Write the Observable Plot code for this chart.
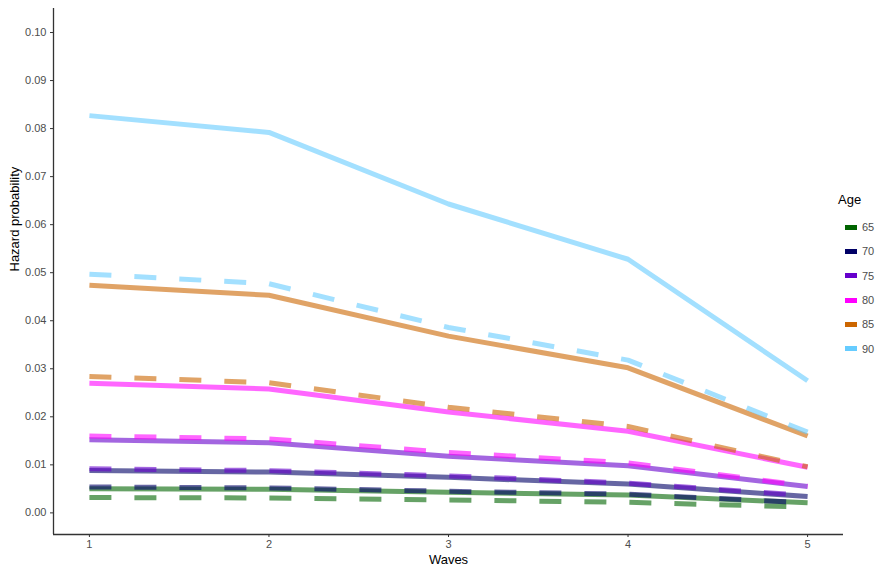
<!DOCTYPE html>
<html>
<head>
<meta charset="utf-8">
<script src="https://cdn.jsdelivr.net/npm/d3@7"></script>
<script src="https://cdn.jsdelivr.net/npm/@observablehq/plot@0.6"></script>
<style>
  html, body { margin: 0; padding: 0; background: #fff; }
  #wrap { position: relative; width: 886px; height: 566px; font-family: "Liberation Sans", Arial, sans-serif; }
  #legend { position: absolute; left: 838px; top: 192px; }
  #legend .title { font-size: 13px; color: #000; margin-bottom: 8px; }
  #legend .item { display: flex; align-items: center; height: 24.3px; }
  #legend .key { width: 12px; height: 5px; margin-left: 7px; margin-right: 5px; }
  #legend .lab { font-size: 11px; color: #4d4d4d; }
</style>
</head>
<body>
<div id="wrap"><div id="legend"></div></div>
<script>
const waves = [1, 2, 3, 4, 5];
const ages = ["65", "70", "75", "80", "85", "90"];
const ageColors = ["#006400", "#000066", "#6600cc", "#ff00ff", "#cc6600", "#66ccff"];
const yTicks = [0, 0.01, 0.02, 0.03, 0.04, 0.05, 0.06, 0.07, 0.08, 0.09, 0.10];
const xDomain = [0.8, 5.2];
const yDomain = [-0.0045, 0.105];

// solid lines, by age
const solid65 = [0.0050, 0.0049, 0.0043, 0.0037, 0.0021];
const solid70 = [0.0088, 0.0085, 0.0074, 0.0060, 0.0034];
const solid75 = [0.0152, 0.0146, 0.0118, 0.0098, 0.0055];
const solid80 = [0.0270, 0.0258, 0.0210, 0.0170, 0.0095];
const solid85 = [0.0474, 0.0453, 0.0368, 0.0302, 0.0160];
const solid90 = [0.0827, 0.0792, 0.0643, 0.0528, 0.0275];

// dashed lines, by age
const dashed65 = [0.0032, 0.0031, 0.0027, 0.0022, 0.0012];
const dashed70 = [0.0054, 0.0052, 0.0045, 0.0039, 0.0021];
const dashed75 = [0.0092, 0.0088, 0.0077, 0.0062, 0.0036];
const dashed80 = [0.0160, 0.0154, 0.0126, 0.0104, 0.0056];
const dashed85 = [0.0284, 0.0271, 0.0220, 0.0180, 0.0096];
const dashed90 = [0.0497, 0.0477, 0.0386, 0.0318, 0.0168];

const solidSeries = [solid65, solid70, solid75, solid80, solid85, solid90];
const dashedSeries = [dashed65, dashed70, dashed75, dashed80, dashed85, dashed90];

function toRows(series) {
  const rows = [];
  series.forEach((vals, i) => vals.forEach((v, j) => rows.push({age: ages[i], wave: waves[j], value: v})));
  return rows;
}
const solidRows = toRows(solidSeries);
const dashedRows = toRows(dashedSeries);

const chart = Plot.plot({
  width: 886,
  height: 566,
  marginLeft: 53,
  marginRight: 43,
  marginTop: 8,
  marginBottom: 32,
  style: {fontFamily: "Liberation Sans, Arial, sans-serif", background: "#fff"},
  x: {domain: xDomain, ticks: waves, tickFormat: d => String(d), label: null},
  y: {domain: yDomain, ticks: yTicks, tickFormat: d3.format(".2f"), label: null},
  color: {domain: ages, range: ageColors},
  marks: [
    Plot.lineY(solidRows, {x: "wave", y: "value", z: "age", stroke: "age", strokeWidth: 5, strokeOpacity: 0.6, strokeLinecap: "butt", strokeLinejoin: "round"}),
    Plot.lineY(dashedRows, {x: "wave", y: "value", z: "age", stroke: "age", strokeWidth: 5, strokeOpacity: 0.6, strokeLinecap: "butt", strokeLinejoin: "round", strokeDasharray: "22,23"}),
    Plot.ruleX([xDomain[0]], {stroke: "#333", strokeWidth: 1.3}),
    Plot.ruleY([yDomain[0]], {stroke: "#333", strokeWidth: 1.3}),
    Plot.axisX({ticks: waves, tickFormat: d => String(d), tickSize: 3, tickPadding: 3, fontSize: 11, color: "#4d4d4d", stroke: "#333", label: null}),
    Plot.axisY({ticks: yTicks, tickFormat: d3.format(".2f"), tickSize: 3, tickPadding: 4, fontSize: 11, color: "#4d4d4d", stroke: "#333", label: null}),
    Plot.text(["Waves"], {frameAnchor: "bottom", dy: 29, fontSize: 13, fill: "#000"}),
    Plot.text(["Hazard probability"], {frameAnchor: "left", dx: -39, rotate: -90, fontSize: 13, fill: "#000"})
  ]
});
document.getElementById("wrap").prepend(chart);

const legend = document.getElementById("legend");
const t = document.createElement("div");
t.className = "title"; t.textContent = "Age";
legend.appendChild(t);
ages.forEach((a, i) => {
  const it = document.createElement("div"); it.className = "item";
  const k = document.createElement("div"); k.className = "key"; k.style.background = ageColors[i];
  const l = document.createElement("span"); l.className = "lab"; l.textContent = a;
  it.appendChild(k); it.appendChild(l); legend.appendChild(it);
});
</script>
</body>
</html>
